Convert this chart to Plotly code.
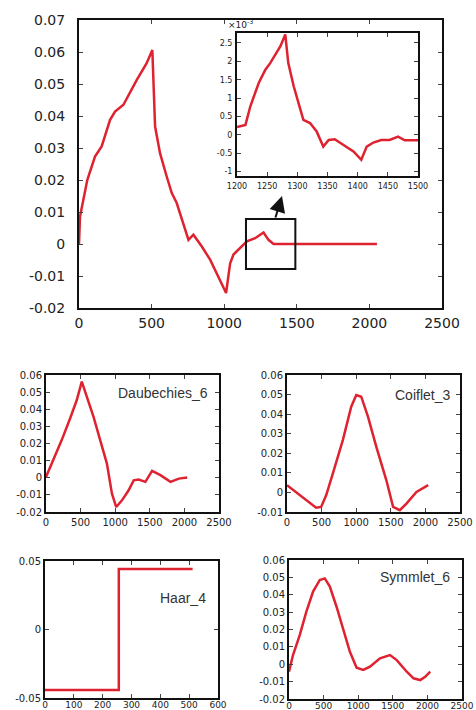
import plotly.graph_objects as go

# ---------------- data ----------------
main_x = [0, 7, 30, 57, 110, 156, 214, 248, 306, 398, 466, 505, 524, 558, 604, 639, 673, 731, 754,
          788, 846, 903, 972, 1013, 1041, 1064, 1156, 1213, 1271, 1305, 1340, 2052]
main_y = [0.0, 0.0086, 0.0138, 0.020, 0.0273, 0.0305, 0.0388, 0.0414, 0.0435, 0.0513, 0.0565, 0.0606,
          0.0367, 0.0284, 0.0211, 0.0159, 0.0128, 0.0045, 0.0013, 0.0029, -0.0008, -0.0049, -0.0112,
          -0.0153, -0.006, -0.0033, 0.0008, 0.0018, 0.0036, 0.0013, 0.0, 0.0]

inset_x = [1200, 1214, 1222, 1236, 1247, 1255, 1272, 1280, 1285, 1294, 1302, 1310, 1321, 1332, 1343,
           1352, 1362, 1376, 1393, 1406, 1415, 1426, 1439, 1453, 1467, 1478, 1500]
inset_y = [0.21, 0.27, 0.77, 1.41, 1.77, 1.95, 2.41, 2.73, 1.95, 1.32, 0.86, 0.41, 0.32, 0.09, -0.32,
           -0.14, -0.12, -0.27, -0.45, -0.68, -0.32, -0.21, -0.14, -0.14, -0.05, -0.15, -0.15]

daub_x = [0, 106, 227, 348, 445, 517, 590, 687, 783, 880, 953, 1015, 1098, 1194, 1267, 1339, 1436,
          1533, 1654, 1799, 1920, 2041]
daub_y = [0.0005, 0.0102, 0.022, 0.0346, 0.0454, 0.0561, 0.0473, 0.0356, 0.022, 0.0083, -0.0093,
          -0.0171, -0.0132, -0.0073, -0.0015, -0.0011, -0.0024, 0.004, 0.0015, -0.0024, -0.0005, 0.0001]

coif_x = [0, 131, 276, 421, 493, 566, 662, 807, 928, 1001, 1073, 1170, 1291, 1436, 1533, 1630, 1726,
          1871, 2040]
coif_y = [0.0037, 0.0002, -0.004, -0.0078, -0.0074, -0.0015, 0.0096, 0.0267, 0.0438, 0.0498, 0.0489,
          0.0387, 0.0233, 0.0062, -0.0074, -0.0091, -0.0057, 0.0002, 0.0037]

haar_x = [0, 256, 512]
haar_y = [-0.0442, 0.0442, 0.0442]

symm_x = [0, 58, 155, 251, 348, 445, 517, 590, 687, 783, 880, 977, 1073, 1170, 1315, 1460, 1557,
          1702, 1799, 1896, 1968, 2041]
symm_y = [-0.0043, 0.0053, 0.0168, 0.0303, 0.0418, 0.0485, 0.0494, 0.0447, 0.0331, 0.0207, 0.0072,
          -0.002, -0.0033, -0.0014, 0.0034, 0.0053, 0.0024, -0.0043, -0.0081, -0.0091, -0.0072, -0.0043]

main_yticks = [-0.02, -0.01, 0, 0.01, 0.02, 0.03, 0.04, 0.05, 0.06, 0.07]
main_ytext = ["-0.02", "-0.01", "0", "0.01", "0.02", "0.03", "0.04", "0.05", "0.06", "0.07"]
sub_yticks = [-0.02, -0.01, 0, 0.01, 0.02, 0.03, 0.04, 0.05, 0.06]
sub_ytext = ["-0.02", "-0.01", "0", "0.01", "0.02", "0.03", "0.04", "0.05", "0.06"]
coif_yticks = [-0.01, 0, 0.01, 0.02, 0.03, 0.04, 0.05, 0.06]
coif_ytext = ["-0.01", "0", "0.01", "0.02", "0.03", "0.04", "0.05", "0.06"]
haar_yticks = [-0.05, 0, 0.05]
haar_ytext = ["-0.05", "0", "0.05"]
inset_yticks = [-1, -0.5, 0, 0.5, 1, 1.5, 2, 2.5]
inset_ytext = ["-1", "-0.5", "0", "0.5", "1", "1.5", "2", "2.5"]
inset_xticks = [1200, 1250, 1300, 1350, 1400, 1450, 1500]
wave_xticks = [0, 500, 1000, 1500, 2000, 2500]
haar_xticks = [0, 100, 200, 300, 400, 500, 600]

W, H = 476, 710
RED = "rgb(222,34,48)"


def px_dom(a, b, total, flip=False):
    if flip:
        return [1 - b / total, 1 - a / total]
    return [a / total, b / total]


fig = go.Figure()

traces = [
    (main_x, main_y, "x", "y", "linear"),
    (inset_x, inset_y, "x2", "y2", "linear"),
    (daub_x, daub_y, "x3", "y3", "linear"),
    (coif_x, coif_y, "x4", "y4", "linear"),
    (haar_x, haar_y, "x5", "y5", "hv"),
    (symm_x, symm_y, "x6", "y6", "linear"),
]
for xs, ys, xa, ya, shp in traces:
    fig.add_trace(go.Scatter(x=xs, y=ys, xaxis=xa, yaxis=ya, mode="lines",
                             line=dict(color=RED, width=2.5, shape=shp),
                             showlegend=False, hoverinfo="skip"))

FONT = "DejaVu Sans"


def axis_common(size):
    return dict(showline=True, linecolor="#111", linewidth=2, mirror="ticks",
                ticks="inside", ticklen=4, tickwidth=1, tickcolor="#444",
                showgrid=False, zeroline=False, automargin=False,
                tickfont=dict(family=FONT, size=size, color="#222"))


layout = dict(width=W, height=H, margin=dict(l=0, r=0, t=0, b=0), template="none",
              paper_bgcolor="white", plot_bgcolor="white", showlegend=False)

# main
layout["xaxis"] = dict(axis_common(14), domain=px_dom(79, 442, W), range=[0, 2500],
                       tickvals=wave_xticks, anchor="y", ticklabelstandoff=1)
layout["yaxis"] = dict(axis_common(14), domain=px_dom(20, 308, H, True), range=[-0.02, 0.07],
                       tickvals=main_yticks, ticktext=main_ytext, anchor="x", ticklabelstandoff=9)
# inset
layout["xaxis2"] = dict(axis_common(8), domain=px_dom(237, 418, W), range=[1200, 1500],
                        tickvals=inset_xticks, anchor="y2", ticklabelstandoff=1)
layout["yaxis2"] = dict(axis_common(8), domain=px_dom(33, 176, H, True), range=[-1.12, 2.77],
                        tickvals=inset_yticks, ticktext=inset_ytext, anchor="x2", ticklabelstandoff=1)
# Daubechies
layout["xaxis3"] = dict(axis_common(10), domain=px_dom(46, 219, W), range=[0, 2500],
                        tickvals=wave_xticks, anchor="y3", ticklabelstandoff=0)
layout["yaxis3"] = dict(axis_common(10), domain=px_dom(375, 512, H, True), range=[-0.02, 0.06],
                        tickvals=sub_yticks, ticktext=sub_ytext, anchor="x3", ticklabelstandoff=0)
# Coiflet
layout["xaxis4"] = dict(axis_common(10), domain=px_dom(287, 460, W), range=[0, 2500],
                        tickvals=wave_xticks, anchor="y4", ticklabelstandoff=0)
layout["yaxis4"] = dict(axis_common(10), domain=px_dom(375, 512, H, True), range=[-0.01, 0.06],
                        tickvals=coif_yticks, ticktext=coif_ytext, anchor="x4", ticklabelstandoff=0)
# Haar
layout["xaxis5"] = dict(axis_common(9), domain=px_dom(45, 218, W), range=[0, 600],
                        tickvals=haar_xticks, anchor="y5", ticklabelstandoff=-3)
layout["yaxis5"] = dict(axis_common(10), domain=px_dom(561, 698, H, True), range=[-0.05, 0.05],
                        tickvals=haar_yticks, ticktext=haar_ytext, anchor="x5", ticklabelstandoff=0)
# Symmlet
layout["xaxis6"] = dict(axis_common(9), domain=px_dom(289, 462, W), range=[0, 2500],
                        tickvals=wave_xticks, anchor="y6", ticklabelstandoff=-3)
layout["yaxis6"] = dict(axis_common(10), domain=px_dom(560, 699, H, True), range=[-0.02, 0.06],
                        tickvals=sub_yticks, ticktext=sub_ytext, anchor="x6", ticklabelstandoff=0)

fig.update_layout(**layout)

# zoom box + arrow on main plot
fig.add_shape(type="rect", xref="x", yref="y", x0=1150, x1=1490, y0=-0.0078, y1=0.0078,
              line=dict(color="#111", width=2), fillcolor="rgba(0,0,0,0)")
fig.add_annotation(xref="x", yref="y", axref="x", ayref="y", x=1398, y=0.0150, ax=1350, ay=0.0078,
                   text="", showarrow=True, arrowhead=2, arrowsize=1.6, arrowwidth=2, arrowcolor="#111")

# inset exponent label
fig.add_annotation(xref="paper", yref="paper", x=226 / W, y=1 - 24 / H, xanchor="left", yanchor="middle",
                   text="×10<sup>-3</sup>", showarrow=False, font=dict(family=FONT, size=9, color="#222"))

# wavelet names
names = [("Daubechies_6", 210, 393), ("Coiflet_3", 452, 395), ("Haar_4", 208, 598), ("Symmlet_6", 452, 577)]
for txt, xr, yc in names:
    fig.add_annotation(xref="paper", yref="paper", x=xr / W, y=1 - yc / H, xanchor="right", yanchor="middle",
                       text=txt, showarrow=False, font=dict(family="Liberation Sans", size=14, color="#333"))

fig.write_html("out.html", config={"displayModeBar": False},
               post_script="document.body.style.margin='0';document.body.style.overflow='hidden';")
